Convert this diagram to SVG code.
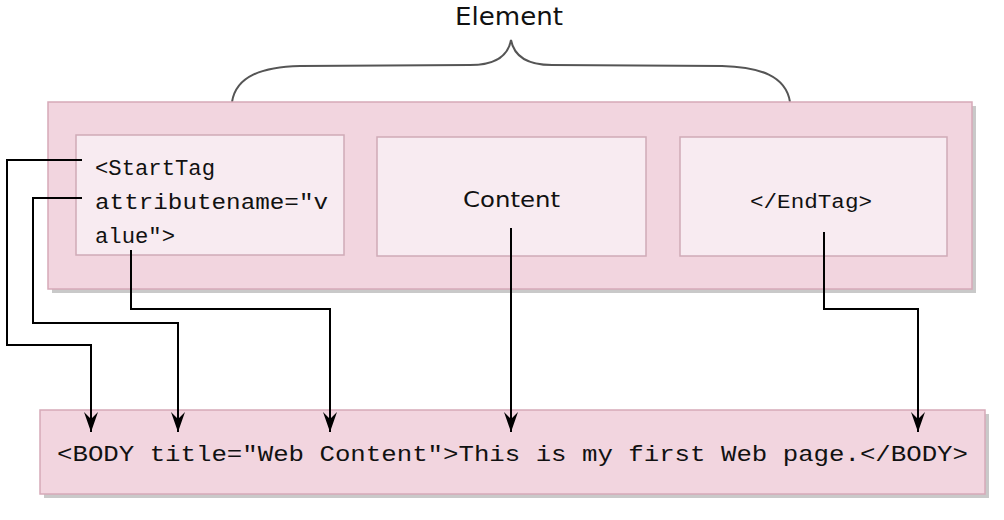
<svg xmlns="http://www.w3.org/2000/svg" width="1004" height="520" viewBox="0 0 1004 520">
<style>
.shadow{fill:#c9c9c9}
.outer{fill:#f2d5df;stroke:#d6a9b8;stroke-width:1.5}
.inner{fill:#f8ebf1;stroke:#cfaab7;stroke-width:1.5}
.mono{font-family:"Liberation Mono","Courier New",monospace;fill:#111}
.sans{font-family:"DejaVu Sans",Verdana,sans-serif;fill:#111}
.conn{fill:none;stroke:#000;stroke-width:2}
.brace{fill:none;stroke:#555;stroke-width:2}
</style>
<defs>
<marker id="arr" markerUnits="userSpaceOnUse" markerWidth="24" markerHeight="16" refX="22" refY="8" orient="auto" viewBox="0 0 24 16">
<path d="M2,1 L22,8 L2,15 L9,8 Z" fill="#000"/>
</marker>
</defs>
<rect width="1004" height="520" fill="#fff"/>
<g id="element-label">
<text class="sans" x="509" y="25" font-size="24" text-anchor="middle" textLength="108" lengthAdjust="spacingAndGlyphs">Element</text>
<path class="brace" d="M232,102 C236,76 262,67 300,66 L470,65 C496,65 508,56 511,40 C514,56 526,65 552,65 L722,66 C760,67 786,76 790,102"/>
</g>
<g id="element">
<rect class="shadow" x="52" y="106" width="924" height="187"/>
<rect class="outer" x="48" y="102" width="924" height="187"/>
</g>
<g id="starttag">
<rect class="inner" x="76" y="135" width="268" height="120"/>
<text class="mono" font-size="22" x="95" y="175" textLength="120" lengthAdjust="spacingAndGlyphs">&lt;StartTag</text>
<text class="mono" font-size="22" x="95" y="209" textLength="233" lengthAdjust="spacingAndGlyphs">attributename=″v</text>
<text class="mono" font-size="22" x="95" y="243" textLength="80" lengthAdjust="spacingAndGlyphs">alue″&gt;</text>
</g>
<g id="content">
<rect class="inner" x="377" y="137" width="269" height="119"/>
<text class="sans" x="463" y="207" font-size="22" textLength="97" lengthAdjust="spacingAndGlyphs">Content</text>
</g>
<g id="endtag">
<rect class="inner" x="680" y="137" width="267" height="119"/>
<text class="mono" font-size="20" x="750" y="208" textLength="122" lengthAdjust="spacingAndGlyphs">&lt;/EndTag&gt;</text>
</g>
<g id="body">
<rect class="shadow" x="44" y="414" width="945" height="84"/>
<rect class="outer" x="40" y="410" width="945" height="84"/>
<text class="mono" font-size="22" x="57" y="461" textLength="911" lengthAdjust="spacingAndGlyphs">&lt;BODY title=″Web Content″&gt;This is my first Web page.&lt;/BODY&gt;</text>
</g>
<g id="connectors">
<path class="conn" d="M82,160 H7 V345 H91 V432" marker-end="url(#arr)"/>
<path class="conn" d="M82,198 H33 V323 H178 V432" marker-end="url(#arr)"/>
<path class="conn" d="M131,250 V309 H330 V432" marker-end="url(#arr)"/>
<path class="conn" d="M511,228 V432" marker-end="url(#arr)"/>
<path class="conn" d="M824,232 V309 H918 V432" marker-end="url(#arr)"/>
</g>
</svg>
